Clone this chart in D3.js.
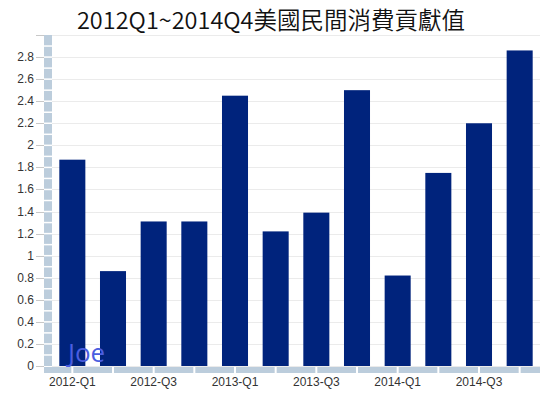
<!DOCTYPE html>
<html>
<head>
<meta charset="utf-8">
<script src="https://cdn.jsdelivr.net/npm/d3@7"></script>
<style>
  body { margin: 0; background: #fff; }
  svg { display: block; }
</style>
</head>
<body>
<svg id="chart" width="552" height="393"></svg>
<script>
// data
var quarters = ['2012-Q1', '2012-Q2', '2012-Q3', '2012-Q4',
                '2013-Q1', '2013-Q2', '2013-Q3', '2013-Q4',
                '2014-Q1', '2014-Q2', '2014-Q3', '2014-Q4'];
var contribution = [1.87, 0.86, 1.31, 1.31, 2.45, 1.22, 1.39, 2.50, 0.82, 1.75, 2.20, 2.86];
var yTicks = [0, 0.2, 0.4, 0.6, 0.8, 1, 1.2, 1.4, 1.6, 1.8, 2, 2.2, 2.4, 2.6, 2.8, 3];
var titleText = '2012Q1~2014Q4美國民間消費貢獻值';

var svg = d3.select('#chart');
var band = '#bccddc';

// scales
var x = d3.scaleBand()
  .domain(quarters)
  .range([52, 540])
  .paddingInner(0.36)
  .paddingOuter(0.18);

var y = d3.scaleLinear()
  .domain([0, 3])
  .range([366, 35]);

// title
svg.append('text')
  .attr('x', 271)
  .attr('y', 29)
  .attr('text-anchor', 'middle')
  .style('font-family', '"Noto Sans CJK TC", "Noto Sans", sans-serif')
  .style('font-size', '23.5px')
  .style('font-weight', 350)
  .attr('fill', '#111')
  .text(titleText);

// grid lines
svg.append('g')
  .selectAll('line')
  .data(yTicks)
  .join('line')
  .attr('x1', 52)
  .attr('x2', 540)
  .attr('y1', function (d) { return Math.round(y(d)) + 0.5; })
  .attr('y2', function (d) { return Math.round(y(d)) + 0.5; })
  .attr('stroke', '#ebebeb')
  .attr('stroke-width', 1);

// bars
svg.append('g')
  .selectAll('rect')
  .data(contribution)
  .join('rect')
  .attr('x', function (d, i) { return x(quarters[i]); })
  .attr('width', x.bandwidth())
  .attr('y', function (d) { return y(d); })
  .attr('height', function (d) { return y(0) - y(d); })
  .attr('fill', '#00237c');

// y axis: shaded band with white marks every 0.1
var yAxis = svg.append('g');
yAxis.append('rect')
  .attr('x', 44)
  .attr('y', y(3))
  .attr('width', 8)
  .attr('height', y(0) - y(3))
  .attr('fill', band);

yAxis.selectAll('line.minor')
  .data(d3.range(1, 30))
  .join('line')
  .attr('class', 'minor')
  .attr('x1', 44)
  .attr('x2', 52)
  .attr('y1', function (d) { return y(d / 10); })
  .attr('y2', function (d) { return y(d / 10); })
  .attr('stroke', '#fff')
  .attr('stroke-width', 1.5);

yAxis.selectAll('line.tick')
  .data(yTicks)
  .join('line')
  .attr('class', 'tick')
  .attr('x1', 36)
  .attr('x2', 44)
  .attr('y1', function (d) { return Math.round(y(d)) + 0.5; })
  .attr('y2', function (d) { return Math.round(y(d)) + 0.5; })
  .attr('stroke', '#c8c8c8');

yAxis.selectAll('text')
  .data(yTicks.filter(function (d) { return d < 3; }))
  .join('text')
  .attr('x', 34)
  .attr('y', function (d) { return y(d) + 4; })
  .attr('text-anchor', 'end')
  .style('font-family', 'Arial, "Liberation Sans", sans-serif')
  .style('font-size', '12px')
  .attr('fill', '#333')
  .text(function (d) { return d3.format('~g')(d); });

// x axis: shaded band split at each category centre
var xAxis = svg.append('g');
xAxis.append('rect')
  .attr('x', 44)
  .attr('y', 367)
  .attr('width', 496)
  .attr('height', 6)
  .attr('fill', band);

xAxis.selectAll('line')
  .data(quarters)
  .join('line')
  .attr('x1', function (d) { return x(d) + x.bandwidth() / 2; })
  .attr('x2', function (d) { return x(d) + x.bandwidth() / 2; })
  .attr('y1', 367)
  .attr('y2', 373)
  .attr('stroke', '#fff')
  .attr('stroke-width', 2);

xAxis.selectAll('text')
  .data(quarters.filter(function (d, i) { return i % 2 === 0; }))
  .join('text')
  .attr('x', function (d) { return x(d) + x.bandwidth() / 2; })
  .attr('y', 386)
  .attr('text-anchor', 'middle')
  .style('font-family', 'Arial, "Liberation Sans", sans-serif')
  .style('font-size', '12px')
  .attr('fill', '#333')
  .text(function (d) { return d; });

// watermark
svg.append('text')
  .attr('x', 68)
  .attr('y', 362)
  .style('font-family', '"Open Sans", "DejaVu Sans", sans-serif')
  .style('font-size', '26px')
  .attr('fill', '#4a5ee0')
  .text('Joe');
</script>
</body>
</html>
